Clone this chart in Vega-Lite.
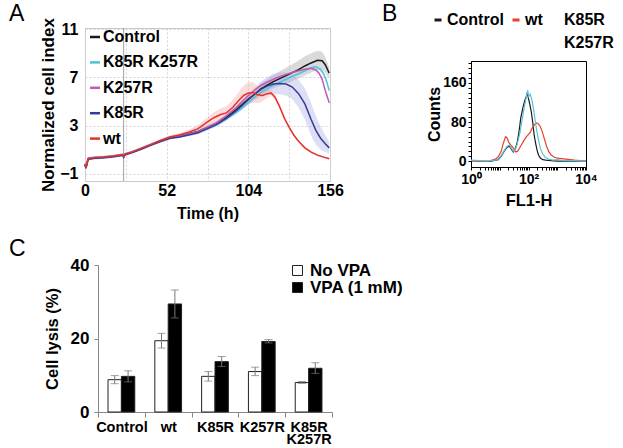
{
  "$schema": "https://vega.github.io/schema/vega-lite/v6.json",
  "padding": {"left": 8, "top": -11, "right": 0, "bottom": 0},
  "config": {
    "font": "Liberation Sans",
    "view": {"stroke": null},
    "axis": {"labelColor": "black", "titleColor": "black", "labelFont": "Liberation Sans", "titleFont": "Liberation Sans", "labelFontWeight": "bold", "titleFontWeight": "bold", "labelOverlap": false, "labelFlush": false},
    "legend": {"labelColor": "black", "labelFont": "Liberation Sans", "labelFontWeight": "bold", "padding": 0, "labelLimit": 0},
    "title": {"font": "Liberation Sans", "fontWeight": "normal", "color": "black", "fontSize": 23}
  },
  "datasets": {
    "rule": [{"t": 24.6}],
    "growth": [
      {"s":"Control","t":0,"v":-0.2,"lo":-0.3,"hi":-0.1},{"s":"Control","t":0.6,"v":-0.5,"lo":-0.6,"hi":-0.4},{"s":"Control","t":2,"v":0.25,"lo":0.15,"hi":0.35},{"s":"Control","t":6,"v":0.33,"lo":0.23,"hi":0.43},{"s":"Control","t":12,"v":0.38,"lo":0.28,"hi":0.48},{"s":"Control","t":18,"v":0.45,"lo":0.35,"hi":0.55},{"s":"Control","t":24,"v":0.58,"lo":0.48,"hi":0.68},{"s":"Control","t":24.6,"v":0.4,"lo":0.3,"hi":0.5},{"s":"Control","t":25.5,"v":0.62,"lo":0.52,"hi":0.72},{"s":"Control","t":30,"v":0.8,"lo":0.7,"hi":0.9},{"s":"Control","t":36,"v":1.1,"lo":1.0,"hi":1.2},{"s":"Control","t":42,"v":1.42,"lo":1.3,"hi":1.54},{"s":"Control","t":48,"v":1.72,"lo":1.6,"hi":1.84},{"s":"Control","t":54,"v":2.0,"lo":1.85,"hi":2.15},{"s":"Control","t":60,"v":2.12,"lo":1.97,"hi":2.27},{"s":"Control","t":66,"v":2.32,"lo":2.17,"hi":2.47},{"s":"Control","t":72,"v":2.52,"lo":2.34,"hi":2.7},{"s":"Control","t":78,"v":2.85,"lo":2.65,"hi":3.05},{"s":"Control","t":84,"v":3.2,"lo":2.98,"hi":3.42},{"s":"Control","t":90,"v":3.7,"lo":3.45,"hi":3.95},{"s":"Control","t":96,"v":4.3,"lo":4.0,"hi":4.6},{"s":"Control","t":100,"v":4.75,"lo":4.43,"hi":5.07},{"s":"Control","t":104,"v":5.2,"lo":4.85,"hi":5.55},{"s":"Control","t":108,"v":5.6,"lo":5.2,"hi":6.0},{"s":"Control","t":112,"v":6.05,"lo":5.6,"hi":6.5},{"s":"Control","t":116,"v":6.35,"lo":5.85,"hi":6.85},{"s":"Control","t":120,"v":6.65,"lo":6.1,"hi":7.2},{"s":"Control","t":124,"v":6.9,"lo":6.3,"hi":7.5},{"s":"Control","t":128,"v":7.15,"lo":6.5,"hi":7.8},{"s":"Control","t":132,"v":7.4,"lo":6.7,"hi":8.1},{"s":"Control","t":136,"v":7.65,"lo":6.9,"hi":8.4},{"s":"Control","t":140,"v":7.95,"lo":7.15,"hi":8.75},{"s":"Control","t":144,"v":8.2,"lo":7.4,"hi":9.0},{"s":"Control","t":148,"v":8.42,"lo":7.62,"hi":9.22},{"s":"Control","t":151,"v":8.38,"lo":7.63,"hi":9.13},{"s":"Control","t":153,"v":8.05,"lo":7.4,"hi":8.7},{"s":"Control","t":155.5,"v":7.35,"lo":6.85,"hi":7.85},
      {"s":"K85R K257R","t":0,"v":-0.15,"lo":-0.25,"hi":-0.05},{"s":"K85R K257R","t":0.6,"v":-0.45,"lo":-0.55,"hi":-0.35},{"s":"K85R K257R","t":2,"v":0.28,"lo":0.18,"hi":0.38},{"s":"K85R K257R","t":6,"v":0.36,"lo":0.26,"hi":0.46},{"s":"K85R K257R","t":12,"v":0.41,"lo":0.31,"hi":0.51},{"s":"K85R K257R","t":18,"v":0.48,"lo":0.38,"hi":0.58},{"s":"K85R K257R","t":24,"v":0.61,"lo":0.51,"hi":0.71},{"s":"K85R K257R","t":24.6,"v":0.43,"lo":0.33,"hi":0.53},{"s":"K85R K257R","t":25.5,"v":0.65,"lo":0.55,"hi":0.75},{"s":"K85R K257R","t":30,"v":0.83,"lo":0.73,"hi":0.93},{"s":"K85R K257R","t":36,"v":1.12,"lo":1.02,"hi":1.22},{"s":"K85R K257R","t":42,"v":1.44,"lo":1.34,"hi":1.54},{"s":"K85R K257R","t":48,"v":1.74,"lo":1.64,"hi":1.84},{"s":"K85R K257R","t":54,"v":2.02,"lo":1.92,"hi":2.12},{"s":"K85R K257R","t":60,"v":2.1,"lo":2.0,"hi":2.2},{"s":"K85R K257R","t":66,"v":2.28,"lo":2.18,"hi":2.38},{"s":"K85R K257R","t":72,"v":2.45,"lo":2.35,"hi":2.55},{"s":"K85R K257R","t":78,"v":2.75,"lo":2.6,"hi":2.9},{"s":"K85R K257R","t":84,"v":3.1,"lo":2.95,"hi":3.25},{"s":"K85R K257R","t":90,"v":3.55,"lo":3.4,"hi":3.7},{"s":"K85R K257R","t":96,"v":4.05,"lo":3.9,"hi":4.2},{"s":"K85R K257R","t":100,"v":4.45,"lo":4.3,"hi":4.6},{"s":"K85R K257R","t":104,"v":4.9,"lo":4.75,"hi":5.05},{"s":"K85R K257R","t":108,"v":5.35,"lo":5.2,"hi":5.5},{"s":"K85R K257R","t":112,"v":5.75,"lo":5.6,"hi":5.9},{"s":"K85R K257R","t":116,"v":6.05,"lo":5.9,"hi":6.2},{"s":"K85R K257R","t":120,"v":6.35,"lo":6.2,"hi":6.5},{"s":"K85R K257R","t":124,"v":6.6,"lo":6.45,"hi":6.75},{"s":"K85R K257R","t":128,"v":6.85,"lo":6.7,"hi":7.0},{"s":"K85R K257R","t":132,"v":7.1,"lo":6.95,"hi":7.25},{"s":"K85R K257R","t":136,"v":7.3,"lo":7.15,"hi":7.45},{"s":"K85R K257R","t":140,"v":7.55,"lo":7.4,"hi":7.7},{"s":"K85R K257R","t":144,"v":7.8,"lo":7.65,"hi":7.95},{"s":"K85R K257R","t":147,"v":7.88,"lo":7.68,"hi":8.08},{"s":"K85R K257R","t":150,"v":7.66,"lo":7.46,"hi":7.86},{"s":"K85R K257R","t":152,"v":7.3,"lo":7.1,"hi":7.5},{"s":"K85R K257R","t":154,"v":6.6,"lo":6.4,"hi":6.8},{"s":"K85R K257R","t":155.5,"v":5.9,"lo":5.7,"hi":6.1},
      {"s":"K257R","t":0,"v":-0.22,"lo":-0.34,"hi":-0.1},{"s":"K257R","t":0.6,"v":-0.52,"lo":-0.64,"hi":-0.4},{"s":"K257R","t":2,"v":0.23,"lo":0.11,"hi":0.35},{"s":"K257R","t":6,"v":0.31,"lo":0.19,"hi":0.43},{"s":"K257R","t":12,"v":0.36,"lo":0.24,"hi":0.48},{"s":"K257R","t":18,"v":0.43,"lo":0.31,"hi":0.55},{"s":"K257R","t":24,"v":0.56,"lo":0.44,"hi":0.68},{"s":"K257R","t":24.6,"v":0.38,"lo":0.26,"hi":0.5},{"s":"K257R","t":25.5,"v":0.6,"lo":0.48,"hi":0.72},{"s":"K257R","t":30,"v":0.78,"lo":0.66,"hi":0.9},{"s":"K257R","t":36,"v":1.08,"lo":0.96,"hi":1.2},{"s":"K257R","t":42,"v":1.4,"lo":1.28,"hi":1.52},{"s":"K257R","t":48,"v":1.7,"lo":1.58,"hi":1.82},{"s":"K257R","t":54,"v":1.96,"lo":1.84,"hi":2.08},{"s":"K257R","t":60,"v":2.1,"lo":1.98,"hi":2.22},{"s":"K257R","t":66,"v":2.3,"lo":2.18,"hi":2.42},{"s":"K257R","t":72,"v":2.5,"lo":2.38,"hi":2.62},{"s":"K257R","t":78,"v":2.85,"lo":2.73,"hi":2.97},{"s":"K257R","t":84,"v":3.25,"lo":3.13,"hi":3.37},{"s":"K257R","t":90,"v":3.8,"lo":3.68,"hi":3.92},{"s":"K257R","t":96,"v":4.45,"lo":4.33,"hi":4.57},{"s":"K257R","t":100,"v":5.0,"lo":4.88,"hi":5.12},{"s":"K257R","t":104,"v":5.5,"lo":5.38,"hi":5.62},{"s":"K257R","t":108,"v":5.95,"lo":5.83,"hi":6.07},{"s":"K257R","t":112,"v":6.33,"lo":6.21,"hi":6.45},{"s":"K257R","t":116,"v":6.6,"lo":6.48,"hi":6.72},{"s":"K257R","t":120,"v":6.85,"lo":6.73,"hi":6.97},{"s":"K257R","t":124,"v":7.05,"lo":6.93,"hi":7.17},{"s":"K257R","t":128,"v":7.25,"lo":7.13,"hi":7.37},{"s":"K257R","t":132,"v":7.4,"lo":7.28,"hi":7.52},{"s":"K257R","t":136,"v":7.55,"lo":7.43,"hi":7.67},{"s":"K257R","t":140,"v":7.67,"lo":7.55,"hi":7.79},{"s":"K257R","t":144,"v":7.75,"lo":7.63,"hi":7.87},{"s":"K257R","t":147,"v":7.62,"lo":7.5,"hi":7.74},{"s":"K257R","t":149,"v":7.35,"lo":7.23,"hi":7.47},{"s":"K257R","t":151,"v":6.85,"lo":6.73,"hi":6.97},{"s":"K257R","t":153,"v":5.9,"lo":5.78,"hi":6.02},{"s":"K257R","t":155.5,"v":4.9,"lo":4.78,"hi":5.02},
      {"s":"K85R","t":0,"v":-0.24,"lo":-0.34,"hi":-0.14},{"s":"K85R","t":0.6,"v":-0.54,"lo":-0.64,"hi":-0.44},{"s":"K85R","t":2,"v":0.21,"lo":0.11,"hi":0.31},{"s":"K85R","t":6,"v":0.29,"lo":0.19,"hi":0.39},{"s":"K85R","t":12,"v":0.34,"lo":0.24,"hi":0.44},{"s":"K85R","t":18,"v":0.41,"lo":0.31,"hi":0.51},{"s":"K85R","t":24,"v":0.54,"lo":0.44,"hi":0.64},{"s":"K85R","t":24.6,"v":0.36,"lo":0.26,"hi":0.46},{"s":"K85R","t":25.5,"v":0.58,"lo":0.48,"hi":0.68},{"s":"K85R","t":30,"v":0.76,"lo":0.66,"hi":0.86},{"s":"K85R","t":36,"v":1.06,"lo":0.96,"hi":1.16},{"s":"K85R","t":42,"v":1.38,"lo":1.28,"hi":1.48},{"s":"K85R","t":48,"v":1.68,"lo":1.58,"hi":1.78},{"s":"K85R","t":54,"v":1.94,"lo":1.84,"hi":2.04},{"s":"K85R","t":60,"v":2.05,"lo":1.95,"hi":2.15},{"s":"K85R","t":66,"v":2.22,"lo":2.12,"hi":2.32},{"s":"K85R","t":72,"v":2.4,"lo":2.28,"hi":2.52},{"s":"K85R","t":78,"v":2.75,"lo":2.62,"hi":2.88},{"s":"K85R","t":84,"v":3.1,"lo":2.95,"hi":3.25},{"s":"K85R","t":90,"v":3.6,"lo":3.43,"hi":3.77},{"s":"K85R","t":96,"v":4.2,"lo":4.0,"hi":4.4},{"s":"K85R","t":100,"v":4.65,"lo":4.35,"hi":4.95},{"s":"K85R","t":104,"v":5.15,"lo":4.75,"hi":5.55},{"s":"K85R","t":108,"v":5.6,"lo":5.1,"hi":6.1},{"s":"K85R","t":112,"v":6.0,"lo":5.35,"hi":6.65},{"s":"K85R","t":116,"v":6.28,"lo":5.53,"hi":7.03},{"s":"K85R","t":120,"v":6.45,"lo":5.6,"hi":7.3},{"s":"K85R","t":124,"v":6.5,"lo":5.6,"hi":7.4},{"s":"K85R","t":128,"v":6.45,"lo":5.5,"hi":7.4},{"s":"K85R","t":132,"v":6.2,"lo":5.2,"hi":7.2},{"s":"K85R","t":136,"v":5.65,"lo":4.5,"hi":6.8},{"s":"K85R","t":140,"v":4.8,"lo":3.5,"hi":6.1},{"s":"K85R","t":144,"v":3.5,"lo":2.15,"hi":4.85},{"s":"K85R","t":147,"v":2.6,"lo":1.4,"hi":3.8},{"s":"K85R","t":150,"v":1.95,"lo":1.0,"hi":2.9},{"s":"K85R","t":153,"v":1.5,"lo":0.8,"hi":2.2},{"s":"K85R","t":155.5,"v":1.15,"lo":0.65,"hi":1.65},
      {"s":"wt","t":0,"v":-0.18,"lo":-0.28,"hi":-0.08},{"s":"wt","t":0.6,"v":-0.48,"lo":-0.58,"hi":-0.38},{"s":"wt","t":2,"v":0.27,"lo":0.17,"hi":0.37},{"s":"wt","t":6,"v":0.35,"lo":0.25,"hi":0.45},{"s":"wt","t":12,"v":0.4,"lo":0.3,"hi":0.5},{"s":"wt","t":18,"v":0.47,"lo":0.37,"hi":0.57},{"s":"wt","t":24,"v":0.6,"lo":0.5,"hi":0.7},{"s":"wt","t":24.6,"v":0.42,"lo":0.32,"hi":0.52},{"s":"wt","t":25.5,"v":0.64,"lo":0.54,"hi":0.74},{"s":"wt","t":30,"v":0.82,"lo":0.72,"hi":0.92},{"s":"wt","t":36,"v":1.12,"lo":1.02,"hi":1.22},{"s":"wt","t":42,"v":1.44,"lo":1.34,"hi":1.54},{"s":"wt","t":48,"v":1.76,"lo":1.66,"hi":1.86},{"s":"wt","t":54,"v":2.05,"lo":1.92,"hi":2.18},{"s":"wt","t":60,"v":2.22,"lo":2.07,"hi":2.37},{"s":"wt","t":66,"v":2.45,"lo":2.25,"hi":2.65},{"s":"wt","t":72,"v":2.75,"lo":2.45,"hi":3.05},{"s":"wt","t":78,"v":3.3,"lo":2.9,"hi":3.7},{"s":"wt","t":82,"v":3.65,"lo":3.2,"hi":4.1},{"s":"wt","t":86,"v":3.9,"lo":3.4,"hi":4.4},{"s":"wt","t":90,"v":4.05,"lo":3.5,"hi":4.6},{"s":"wt","t":94,"v":4.5,"lo":3.9,"hi":5.1},{"s":"wt","t":98,"v":5.1,"lo":4.4,"hi":5.8},{"s":"wt","t":101,"v":5.5,"lo":4.7,"hi":6.3},{"s":"wt","t":104,"v":5.7,"lo":4.8,"hi":6.6},{"s":"wt","t":107,"v":5.75,"lo":4.9,"hi":6.6},{"s":"wt","t":110,"v":5.55,"lo":4.85,"hi":6.25},{"s":"wt","t":113,"v":5.5,"lo":5.0,"hi":6.0},{"s":"wt","t":116,"v":5.65,"lo":5.3,"hi":6.0},{"s":"wt","t":118.5,"v":5.7,"lo":5.45,"hi":5.95},{"s":"wt","t":121,"v":5.35,"lo":5.15,"hi":5.55},{"s":"wt","t":124,"v":4.55,"lo":4.45,"hi":4.65},{"s":"wt","t":127,"v":3.6,"lo":3.5,"hi":3.7},{"s":"wt","t":130,"v":2.85,"lo":2.75,"hi":2.95},{"s":"wt","t":133,"v":2.2,"lo":2.1,"hi":2.3},{"s":"wt","t":136,"v":1.7,"lo":1.6,"hi":1.8},{"s":"wt","t":140,"v":1.15,"lo":1.05,"hi":1.25},{"s":"wt","t":144,"v":0.8,"lo":0.7,"hi":0.9},{"s":"wt","t":148,"v":0.55,"lo":0.45,"hi":0.65},{"s":"wt","t":152,"v":0.38,"lo":0.28,"hi":0.48},{"s":"wt","t":155.5,"v":0.25,"lo":0.15,"hi":0.35}
    ],
    "flow": [
      {"s":"Control","x":1,"c":1},{"s":"Control","x":1.995,"c":0},{"s":"Control","x":3.162,"c":1},{"s":"Control","x":5.012,"c":0},{"s":"Control","x":7.079,"c":2},{"s":"Control","x":8.913,"c":3},{"s":"Control","x":11.22,"c":10},{"s":"Control","x":14.13,"c":20},{"s":"Control","x":17.78,"c":28},{"s":"Control","x":21.38,"c":31},{"s":"Control","x":25.12,"c":25},{"s":"Control","x":29.51,"c":19},{"s":"Control","x":33.88,"c":24},{"s":"Control","x":39.81,"c":36},{"s":"Control","x":46.77,"c":60},{"s":"Control","x":53.7,"c":88},{"s":"Control","x":63.1,"c":108},{"s":"Control","x":72.44,"c":122},{"s":"Control","x":83.18,"c":132},{"s":"Control","x":91.2,"c":140},{"s":"Control","x":100,"c":128},{"s":"Control","x":112.2,"c":115},{"s":"Control","x":125.9,"c":100},{"s":"Control","x":141.3,"c":78},{"s":"Control","x":158.5,"c":52},{"s":"Control","x":177.8,"c":36},{"s":"Control","x":199.5,"c":22},{"s":"Control","x":223.9,"c":12},{"s":"Control","x":263,"c":6},{"s":"Control","x":316.2,"c":3},{"s":"Control","x":398.1,"c":2},{"s":"Control","x":631,"c":1},{"s":"Control","x":1000,"c":0},{"s":"Control","x":3162,"c":0},{"s":"Control","x":10000,"c":0},
      {"s":"wt","x":1,"c":1},{"s":"wt","x":2.512,"c":0},{"s":"wt","x":5.012,"c":1},{"s":"wt","x":7.079,"c":4},{"s":"wt","x":8.913,"c":9},{"s":"wt","x":11.22,"c":20},{"s":"wt","x":13.18,"c":36},{"s":"wt","x":15.85,"c":50},{"s":"wt","x":17.78,"c":48},{"s":"wt","x":20.89,"c":38},{"s":"wt","x":25.12,"c":32},{"s":"wt","x":29.51,"c":27},{"s":"wt","x":35.48,"c":19},{"s":"wt","x":41.69,"c":20},{"s":"wt","x":50.12,"c":28},{"s":"wt","x":60.26,"c":36},{"s":"wt","x":72.44,"c":44},{"s":"wt","x":85.11,"c":50},{"s":"wt","x":100,"c":55},{"s":"wt","x":117.5,"c":60},{"s":"wt","x":134.9,"c":68},{"s":"wt","x":158.5,"c":74},{"s":"wt","x":186.2,"c":78},{"s":"wt","x":213.8,"c":77},{"s":"wt","x":251.2,"c":72},{"s":"wt","x":295.1,"c":62},{"s":"wt","x":354.8,"c":46},{"s":"wt","x":416.9,"c":32},{"s":"wt","x":501.2,"c":20},{"s":"wt","x":631,"c":12},{"s":"wt","x":794.3,"c":8},{"s":"wt","x":1000,"c":6},{"s":"wt","x":1413,"c":5},{"s":"wt","x":1995,"c":4},{"s":"wt","x":2818,"c":3},{"s":"wt","x":3981,"c":2},{"s":"wt","x":6310,"c":1},{"s":"wt","x":10000,"c":0},
      {"s":"K85R K257R","x":1,"c":2},{"s":"K85R K257R","x":1.995,"c":1},{"s":"K85R K257R","x":3.981,"c":1},{"s":"K85R K257R","x":7.079,"c":2},{"s":"K85R K257R","x":8.913,"c":4},{"s":"K85R K257R","x":11.22,"c":11},{"s":"K85R K257R","x":14.13,"c":21},{"s":"K85R K257R","x":17.78,"c":30},{"s":"K85R K257R","x":21.38,"c":33},{"s":"K85R K257R","x":25.12,"c":27},{"s":"K85R K257R","x":29.51,"c":20},{"s":"K85R K257R","x":35.48,"c":25},{"s":"K85R K257R","x":41.69,"c":38},{"s":"K85R K257R","x":50.12,"c":58},{"s":"K85R K257R","x":60.26,"c":85},{"s":"K85R K257R","x":70.79,"c":110},{"s":"K85R K257R","x":83.18,"c":130},{"s":"K85R K257R","x":93.33,"c":145},{"s":"K85R K257R","x":102.3,"c":132},{"s":"K85R K257R","x":114.8,"c":137},{"s":"K85R K257R","x":131.8,"c":125},{"s":"K85R K257R","x":151.4,"c":105},{"s":"K85R K257R","x":173.8,"c":80},{"s":"K85R K257R","x":199.5,"c":58},{"s":"K85R K257R","x":229.1,"c":40},{"s":"K85R K257R","x":263,"c":25},{"s":"K85R K257R","x":316.2,"c":14},{"s":"K85R K257R","x":380.2,"c":8},{"s":"K85R K257R","x":501.2,"c":4},{"s":"K85R K257R","x":707.9,"c":2},{"s":"K85R K257R","x":1000,"c":3},{"s":"K85R K257R","x":1585,"c":1},{"s":"K85R K257R","x":3162,"c":1},{"s":"K85R K257R","x":10000,"c":0}
    ],
    "lysis": [
      {"g":"Control","cond":"No VPA","v":8.8,"lo":7.7,"hi":9.9},
      {"g":"Control","cond":"VPA (1 mM)","v":9.7,"lo":8.2,"hi":11.2},
      {"g":"wt","cond":"No VPA","v":19.4,"lo":17.4,"hi":21.4},
      {"g":"wt","cond":"VPA (1 mM)","v":29.4,"lo":25.6,"hi":33.2},
      {"g":"K85R","cond":"No VPA","v":9.7,"lo":8.4,"hi":11.0},
      {"g":"K85R","cond":"VPA (1 mM)","v":13.7,"lo":12.4,"hi":15.1},
      {"g":"K257R","cond":"No VPA","v":11.0,"lo":9.9,"hi":12.2},
      {"g":"K257R","cond":"VPA (1 mM)","v":19.2,"lo":18.8,"hi":19.7},
      {"g":"K85R K257R","cond":"No VPA","v":8.0,"lo":7.8,"hi":8.3},
      {"g":"K85R K257R","cond":"VPA (1 mM)","v":11.9,"lo":10.5,"hi":13.4}
    ]
  },
  "resolve": {"scale": {"fill": "independent", "stroke": "independent"}, "legend": {"fill": "independent", "stroke": "independent"}},
  "spacing": 15,
  "vconcat": [
    {
      "bounds": "flush",
      "spacing": 141,
      "resolve": {"scale": {"fill": "independent", "stroke": "independent"}, "legend": {"fill": "independent", "stroke": "independent"}},
      "hconcat": [
        {
          "width": 245,
          "height": 153,
          "title": {"text": "A", "anchor": "start", "frame": "group", "dx": -76, "offset": 0, "dy": 26, "baseline": "alphabetic"},
          "view": {"stroke": "#c8c8c8"},
          "encoding": {
            "x": {"field": "t", "type": "quantitative", "scale": {"domain": [0, 156], "nice": false},
              "axis": {"values": [0, 26, 52, 78, 104, 130, 156], "labelExpr": "datum.value % 52 == 0 ? datum.label : ''", "grid": true, "gridDash": [2, 2], "gridColor": "#d4d4d4", "ticks": false, "domain": false, "labelFontSize": 16, "labelPadding": 1, "title": "Time (h)", "titleFontSize": 16, "titlePadding": 7}}
          },
          "layer": [
            {
              "data": {"name": "growth"},
              "transform": [{"filter": "datum.s == 'Control'"}],
              "mark": {"type": "area", "fill": "#9e9e9e", "fillOpacity": 0.38},
              "encoding": {
                "y": {"field": "lo", "type": "quantitative", "stack": null, "scale": {"domain": [-1.6, 11.1], "nice": false, "zero": false},
                  "axis": {"values": [-1, 1, 3, 5, 7, 9, 11], "labelExpr": "(datum.value + 1) % 4 == 0 ? datum.label : ''", "grid": true, "gridDash": [2, 2], "gridColor": "#d4d4d4", "ticks": false, "domain": false, "labelFontSize": 16, "labelPadding": 7, "title": "Normalized cell index", "titleFontSize": 17, "titlePadding": 2}},
                "y2": {"field": "hi"}
              }
            },
            {
              "data": {"name": "growth"},
              "transform": [{"filter": "datum.s == 'K85R K257R'"}],
              "mark": {"type": "area", "fill": "#a6e2ec", "fillOpacity": 0.38},
              "encoding": {"y": {"field": "lo", "type": "quantitative", "stack": null}, "y2": {"field": "hi"}}
            },
            {
              "data": {"name": "growth"},
              "transform": [{"filter": "datum.s == 'K257R'"}],
              "mark": {"type": "area", "fill": "#e2a6da", "fillOpacity": 0.38},
              "encoding": {"y": {"field": "lo", "type": "quantitative", "stack": null}, "y2": {"field": "hi"}}
            },
            {
              "data": {"name": "growth"},
              "transform": [{"filter": "datum.s == 'K85R'"}],
              "mark": {"type": "area", "fill": "#a9a9e6", "fillOpacity": 0.38},
              "encoding": {"y": {"field": "lo", "type": "quantitative", "stack": null}, "y2": {"field": "hi"}}
            },
            {
              "data": {"name": "growth"},
              "transform": [{"filter": "datum.s == 'wt'"}],
              "mark": {"type": "area", "fill": "#f3a3a0", "fillOpacity": 0.38},
              "encoding": {"y": {"field": "lo", "type": "quantitative", "stack": null}, "y2": {"field": "hi"}}
            },
            {
              "data": {"name": "rule"},
              "mark": {"type": "rule", "color": "#a0a0a0", "strokeWidth": 1},
              "encoding": {"x": {"field": "t", "type": "quantitative"}}
            },
            {
              "data": {"name": "growth"},
              "mark": {"type": "line", "strokeWidth": 1.5},
              "encoding": {
                "y": {"field": "v", "type": "quantitative"},
                "stroke": {"field": "s", "type": "nominal", "scale": {"domain": ["Control", "K85R K257R", "K257R", "K85R", "wt"], "range": ["#1a1a1a", "#4fc3d9", "#c359b5", "#343d96", "#e8302a"]},
                  "legend": {"orient": "none", "legendX": 2, "legendY": 1, "direction": "vertical", "title": null, "symbolType": "stroke", "symbolSize": 100, "symbolStrokeWidth": 2.5, "labelFontSize": 16, "labelOffset": 0, "rowPadding": 9.4}}
              }
            }
          ]
        },
        {
          "bounds": "flush",
          "spacing": 0,
          "vconcat": [
            {
              "width": 115,
              "height": 33,
              "data": {"values": []},
              "mark": "point",
              "encoding": {}
            },
            {
              "width": 115,
              "height": 106,
              "title": {"text": "B", "anchor": "start", "frame": "group", "dx": -89, "offset": 0, "dy": -12, "baseline": "alphabetic"},
              "view": {"stroke": "black"},
              "data": {"name": "flow"},
              "mark": {"type": "line", "strokeWidth": 1.2},
              "encoding": {
                "x": {"field": "x", "type": "quantitative", "scale": {"type": "log", "domain": [1, 10000], "nice": false},
                  "axis": {"values": [1,2,3,4,5,6,7,8,9,10,20,30,40,50,60,70,80,90,100,200,300,400,500,600,700,800,900,1000,2000,3000,4000,5000,6000,7000,8000,9000,10000], "labelExpr": "datum.value == 1 ? '10⁰' : datum.value == 100 ? '10²' : datum.value == 10000 ? '10⁴' : ''", "grid": false, "tickSize": 3, "tickColor": "black", "domainColor": "black", "labelFontSize": 14, "labelPadding": 2, "title": "FL1-H", "titleFontSize": 16.5, "titlePadding": 6}},
                "y": {"field": "c", "type": "quantitative", "scale": {"domain": [-12, 205], "nice": false, "zero": false},
                  "axis": {"values": [0,10,20,30,40,50,60,70,80,90,100,110,120,130,140,150,160,170,180,190,200], "labelExpr": "datum.value % 80 == 0 ? datum.label : ''", "grid": false, "tickSize": 3, "tickColor": "black", "domainColor": "black", "labelFontSize": 14, "labelPadding": 2, "title": "Counts", "titleFontSize": 16, "titlePadding": 0}},
                "stroke": {"field": "s", "type": "nominal", "scale": {"domain": ["Control", "wt", "K85R K257R"], "range": ["#1a1a1a", "#e8402a", "#5cc2d8"]},
                  "legend": {"orient": "none", "legendX": -41, "legendY": -39, "direction": "horizontal", "title": null, "symbolType": "stroke", "symbolSize": 49, "symbolStrokeWidth": 3, "labelFontSize": 16, "labelOffset": 1, "columnPadding": 2, "labelBaseline": "middle",
                    "labelExpr": "datum.label == 'K85R K257R' ? ['', 'K85R', 'K257R'] : datum.label",
                    "encode": {"labels": {"update": {"lineHeight": {"value": 23}}}}}}
              }
            }
          ]
        }
      ]
    },
    {
      "bounds": "flush",
      "spacing": 0,
      "hconcat": [
        {
          "width": 13,
          "height": 10,
          "data": {"values": []},
          "mark": "point",
          "encoding": {}
        },
        {
          "width": 234,
          "height": 147,
          "title": {"text": "C", "anchor": "start", "frame": "group", "dx": -89, "offset": 0, "dy": 22.5, "baseline": "alphabetic"},
          "data": {"name": "lysis"},
          "encoding": {
            "x": {"field": "g", "type": "nominal", "sort": ["Control", "wt", "K85R", "K257R", "K85R K257R"], "scale": {"paddingInner": 0, "paddingOuter": 0},
              "axis": {"title": null, "labelAngle": 0, "tickBand": "extent", "tickSize": 5, "tickColor": "#888", "domainColor": "#888", "labelFontSize": 14.5, "labelPadding": 3, "labelExpr": "datum.label == 'K85R K257R' ? ['K85R', 'K257R'] : datum.label", "labelLineHeight": 12.5}},
            "xOffset": {"field": "cond", "type": "nominal", "sort": ["No VPA", "VPA (1 mM)"], "scale": {"paddingInner": 0, "paddingOuter": 0.75}}
          },
          "layer": [
            {
              "mark": {"type": "bar", "stroke": "#222", "strokeWidth": 1},
              "encoding": {
                "y": {"field": "v", "type": "quantitative", "scale": {"domain": [0, 40]},
                  "axis": {"values": [0, 10, 20, 30, 40], "title": "Cell lysis (%)", "grid": false, "tickSize": 4, "tickColor": "#888", "domainColor": "#888", "labelFontSize": 17, "labelPadding": 5, "titleFontSize": 16.5, "titlePadding": 10}},
                "fill": {"field": "cond", "type": "nominal", "scale": {"domain": ["No VPA", "VPA (1 mM)"], "range": ["white", "black"]},
                  "legend": {"orient": "none", "direction": "vertical", "legendX": 204, "legendY": -3, "title": null, "symbolType": "square", "symbolSize": 100, "symbolStrokeColor": "#222", "symbolStrokeWidth": 1, "labelFontSize": 17, "labelOffset": 4, "rowPadding": -1}}
              }
            },
            {
              "mark": {"type": "rule", "color": "#777", "strokeWidth": 1},
              "encoding": {"y": {"field": "lo", "type": "quantitative"}, "y2": {"field": "hi"}}
            },
            {
              "mark": {"type": "tick", "color": "#777", "size": 8, "thickness": 1},
              "encoding": {"y": {"field": "lo", "type": "quantitative"}}
            },
            {
              "mark": {"type": "tick", "color": "#777", "size": 8, "thickness": 1},
              "encoding": {"y": {"field": "hi", "type": "quantitative"}}
            }
          ]
        }
      ]
    }
  ]
}
